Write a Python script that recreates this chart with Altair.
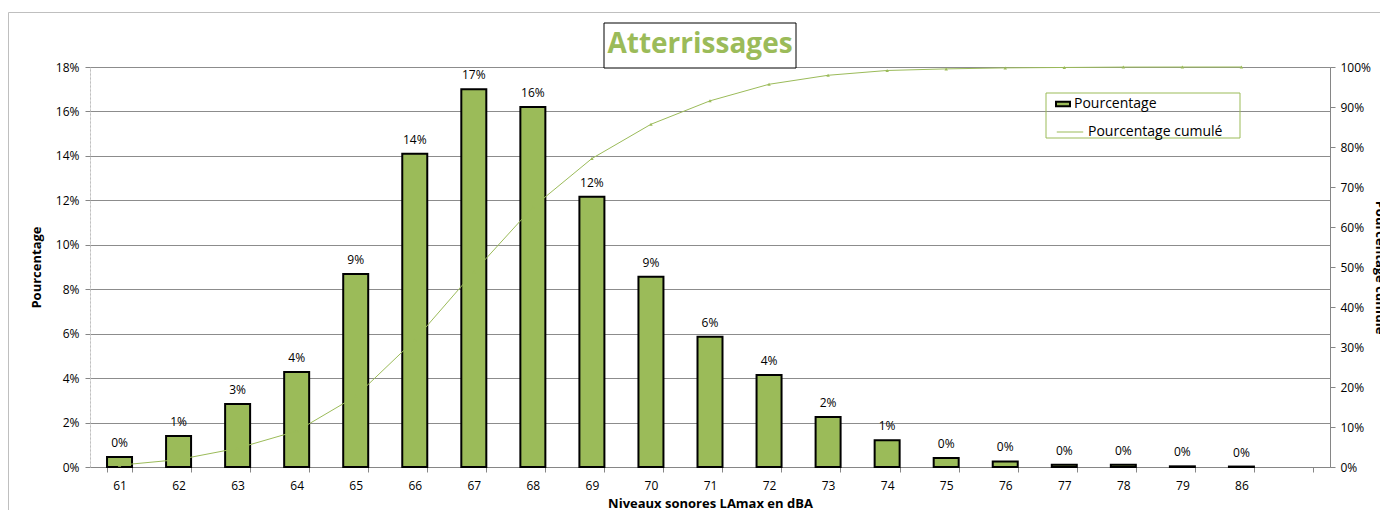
import altair as alt
import pandas as pd

categories = ["61", "62", "63", "64", "65", "66", "67", "68", "69", "70",
              "71", "72", "73", "74", "75", "76", "77", "78", "79", "86"]
pourcentage = [0.0045, 0.014, 0.0284, 0.0428, 0.0869, 0.141, 0.170, 0.162, 0.1216, 0.0856,
               0.0586, 0.0414, 0.0225, 0.012, 0.004, 0.0025, 0.001, 0.001, 0.0003, 0.0002]
cumule = [0.0045, 0.0185, 0.0469, 0.0897, 0.1766, 0.3176, 0.4876, 0.6496, 0.7712, 0.8568,
          0.9154, 0.9568, 0.9793, 0.9913, 0.9953, 0.9978, 0.9988, 0.9998, 0.9999, 1.0]
chart_title = "Atterrissages"

GREEN = "#9BBB59"
FONT = "Open Sans"
W, H = 1240, 400

df = pd.DataFrame({"cat": categories, "pct": pourcentage, "cum": cumule,
                   "s1": "Pourcentage", "s2": "Pourcentage cumulé"})
x_domain = categories + [" "]

x_enc = alt.X("cat:N", sort=x_domain,
              scale=alt.Scale(domain=x_domain, paddingInner=0.58, paddingOuter=0.29),
              axis=alt.Axis(title="Niveaux sonores LAmax en dBA", labelAngle=0, tickBand="extent",
                            domainColor="#868686", tickColor="#868686", tickSize=5,
                            labelFontSize=12, labelColor="#000000", labelPadding=8,
                            titleFontSize=13, titleFontWeight="bold", titleColor="#000000",
                            titlePadding=6, grid=False, labelFont=FONT, titleFont=FONT))

base = alt.Chart(df)

bars = base.mark_bar(stroke="black", strokeWidth=2, size=25).encode(
    x=x_enc,
    y=alt.Y("pct:Q", scale=alt.Scale(domain=[0, 0.18]),
            axis=alt.Axis(title="Pourcentage", format=".0%",
                          values=[0, 0.02, 0.04, 0.06, 0.08, 0.10, 0.12, 0.14, 0.16, 0.18],
                          grid=True, gridColor="#8C8C8C", gridWidth=1,
                          domainColor="#BFBFBF", domainDash=[2, 2], tickColor="#868686",
                          tickSize=5, labelFontSize=12, labelColor="#000000", labelPadding=6,
                          titleFontSize=13, titleFontWeight="bold", titleColor="#000000",
                          titlePadding=12, labelFont=FONT, titleFont=FONT)),
    fill=alt.Fill("s1:N", scale=alt.Scale(domain=["Pourcentage"], range=[GREEN]),
                  legend=alt.Legend(title=None, orient="none", legendX=966, legendY=30,
                                    symbolType="M-1.4,-0.45L1.4,-0.45L1.4,0.45L-1.4,0.45Z",
                                    symbolSize=100, symbolStrokeColor="black",
                                    symbolStrokeWidth=2, labelFontSize=14, labelFont=FONT,
                                    labelColor="#000000", labelOffset=4, padding=0)),
)

labels = base.mark_text(baseline="bottom", dy=-7, fontSize=12, font=FONT, color="#000000").encode(
    x=alt.X("cat:N", sort=x_domain),
    y=alt.Y("pct:Q"),
    text=alt.Text("pct:Q", format=".0%"),
)

left = alt.layer(bars, labels)

y_right = alt.Y("cum:Q", scale=alt.Scale(domain=[0, 1]),
                axis=alt.Axis(title="Pourcentage cumulé", orient="right", format=".0%",
                              values=[0, 0.1, 0.2, 0.3, 0.4, 0.5, 0.6, 0.7, 0.8, 0.9, 1.0],
                              grid=False, domainColor="#868686", tickColor="#868686",
                              tickSize=5, labelFontSize=12, labelColor="#000000", labelPadding=5,
                              titleFontSize=13, titleFontWeight="bold", titleColor="#000000",
                              titlePadding=2, labelFont=FONT, titleFont=FONT)),

line = base.mark_line(strokeWidth=1).encode(
    x=alt.X("cat:N", sort=x_domain),
    y=y_right[0],
    stroke=alt.Stroke("s2:N",
                      scale=alt.Scale(domain=["Pourcentage cumulé"], range=[GREEN]),
                      legend=alt.Legend(title=None, orient="none", legendX=966, legendY=51,
                                        symbolType="stroke", symbolSize=700,
                                        symbolStrokeWidth=1, labelFontSize=14, labelFont=FONT,
                                        labelColor="#000000", labelOffset=4, padding=0)),
)

pts = base.mark_point(shape="triangle-up", filled=True, size=12, color=GREEN, opacity=1).encode(
    x=alt.X("cat:N", sort=x_domain),
    y=y_right[0],
)

right = alt.layer(line, pts)

legend_box = alt.Chart(pd.DataFrame({"k": [0]})).mark_rect(
    fill="transparent", stroke=GREEN, strokeWidth=1).encode(
    x=alt.value(956), x2=alt.value(1150), y=alt.value(26), y2=alt.value(71))

title_box = alt.Chart(pd.DataFrame({"k": [0]})).mark_rect(
    fill="white", stroke="black", strokeWidth=1).encode(
    x=alt.value(514), x2=alt.value(706), y=alt.value(-44), y2=alt.value(1))

title_text = alt.Chart(pd.DataFrame({"t": [chart_title]})).mark_text(
    fontSize=28, font=FONT, fontWeight="bold", color=GREEN, baseline="middle",
    align="center").encode(text="t:N", x=alt.value(610), y=alt.value(-22))

frame = alt.Chart(pd.DataFrame({"k": [0]})).mark_rect(
    fill="transparent", stroke="#BFBFBF", strokeWidth=1).encode(
    x=alt.value(-81.5), x2=alt.value(1400), y=alt.value(-54.5), y2=alt.value(500))

chart = alt.layer(frame, title_box, title_text, left, right, legend_box).resolve_scale(
    y="independent", fill="independent", stroke="independent"
).properties(
    width=W, height=H,
    autosize=alt.AutoSizeParams(type="none"),
    padding={"left": 82, "top": 59, "right": 50, "bottom": 43},
).configure_view(stroke=None).configure(background="white")

chart.save("out.html", embed_options={"renderer": "svg", "actions": False})
